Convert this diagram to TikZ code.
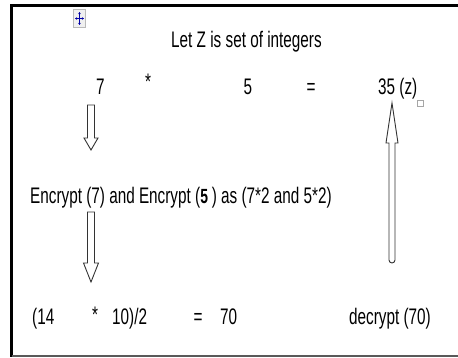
\documentclass[tikz,border=0pt]{standalone}
\usepackage{fontspec}
\setmainfont{Liberation Sans}[FakeStretch=0.68]
\usetikzlibrary{arrows.meta}
\begin{document}
\begin{tikzpicture}[x=1pt,y=-1pt,
  txt/.style={inner sep=0pt,font=\fontsize{22.5}{26}\selectfont},
  blk/.style={draw=black!80,line width=0.9pt,fill=white,line join=miter},
  frameline/.style={line width=2.2pt},
  handle/.style={blue!65!black,line width=0.7pt,
    {Stealth[length=2pt,width=2.5pt]}-{Stealth[length=2pt,width=2.5pt]}}]
\useasboundingbox (0,0) rectangle (458,358);

% frame
\draw[frameline] (459,5.5) -- (11.5,5.5) -- (11.5,357);
\draw[line width=2pt,black!65] (11.5,356) -- (459,356);

% move handle
\draw[gray!55,fill=gray!12,line width=0.7pt] (73.5,9.5) rectangle (85.5,27.5);
\draw[handle] (79.5,12) -- (79.5,25);
\draw[handle] (75,18.5) -- (84,18.5);

% texts
\node[txt,anchor=base west] (title) at (171,48) {Let Z is set of integers};
\node[txt,anchor=base west] (a7) at (96,95) {7};
\node[txt,anchor=base] (m1) at (148,90) {*};
\node[txt,anchor=base] (b5) at (248,95) {5};
\node[txt,anchor=base] (eq1) at (311,95) {=};
\node[txt,anchor=base west] (res) at (378,95) {35 (z)};
\draw[gray!70,line width=0.6pt] (417.5,100.5) rectangle (423,106.5);

\node[txt,anchor=base west] (enc) at (30,204)
  {Encrypt (7) and Encrypt ({\fontsize{20.5}{22}\selectfont\textbf{5}}\,) as (7*2 and 5*2)};

\node[txt,anchor=base west] (c14) at (32,324) {(14};
\node[txt,anchor=base] (m2) at (95,322) {*};
\node[txt,anchor=base west] (c10) at (112,324) {10)/2};
\node[txt,anchor=base] (eq2) at (198,324) {=};
\node[txt,anchor=base west] (c70) at (220,324) {70};
\node[txt,anchor=base west] (dec) at (349,324) {decrypt (70)};

% block arrows
\coordinate (d1) at (91,105);
\coordinate (d2) at (91,212);
\coordinate (u1) at (392,103);

\draw[blk] (d1) ++(-3.5,0) -- ++(7,0) -- ++(0,33) -- ++(3.5,0) -- ++(-7,12)
  -- ++(-7,-12) -- ++(3.5,0) -- cycle;
\draw[blk] (d2) ++(-3.5,0) -- ++(7,0) -- ++(0,51) -- ++(4,0) -- ++(-7.5,19)
  -- ++(-7.5,-19) -- ++(4,0) -- cycle;
\draw[blk] (u1) -- ++(6,40) -- ++(-3,0) [rounded corners=3pt] -- ++(0,120)
  -- ++(-6,0) [sharp corners] -- ++(0,-120) -- ++(-3,0) -- cycle;
\end{tikzpicture}
\end{document}
